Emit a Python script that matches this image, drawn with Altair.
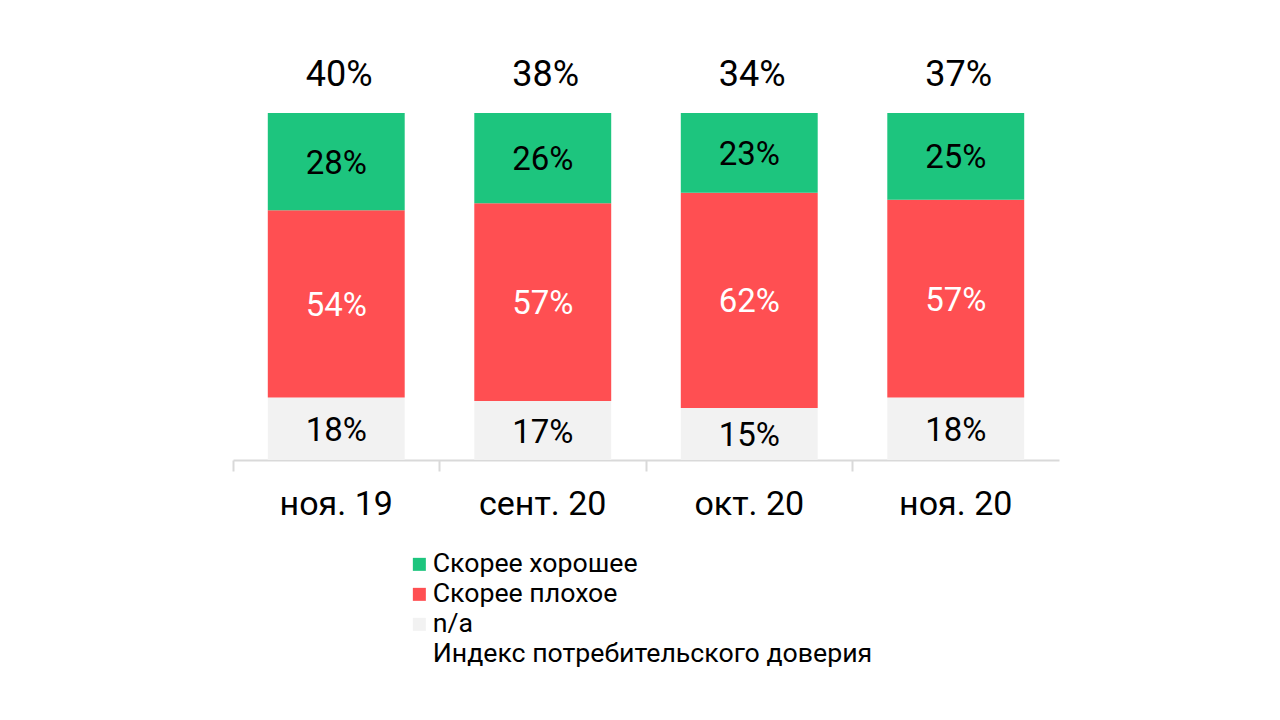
import altair as alt
import pandas as pd

months = ["ноя. 19", "сент. 20", "окт. 20", "ноя. 20"]
good = [28, 26, 23, 25]
bad = [54, 57, 62, 57]
na = [18, 17, 15, 18]
index_vals = [40, 38, 34, 37]

s_good = "Скорее хорошее"
s_bad = "Скорее плохое"
s_na = "n/a"
s_index = "Индекс потребительского доверия"
legend_domain = [s_good, s_bad, s_na, s_index]
legend_colors = ["#1DC57E", "#FF4F52", "#F2F2F2", "rgba(0,0,0,0)"]

rows = []
for i, m in enumerate(months):
    for s, vals, order in [(s_na, na, 0), (s_bad, bad, 1), (s_good, good, 2)]:
        rows.append({"month": m, "series": s, "value": vals[i], "order": order,
                     "label": f"{vals[i]}%"})
df = pd.DataFrame(rows)
idx_df = pd.DataFrame({"month": months, "index": index_vals,
                       "label": [f"{v}%" for v in index_vals]})

x_enc = alt.X(
    "month:N", sort=months,
    scale=alt.Scale(paddingInner=0.337, paddingOuter=0.1685),
    axis=alt.Axis(title=None, labelAngle=0, labelFontSize=34, labelFont="Roboto",
                  labelColor="#000000", domainColor="#D9D9D9", domainWidth=2,
                  tickColor="#D9D9D9", tickWidth=2, tickSize=11, bandPosition=-0.254,
                  labelPadding=33, labelBaseline="middle"),
)

base = alt.Chart(df)

bars = base.mark_bar().encode(
    x=x_enc,
    y=alt.Y("value:Q", stack="zero", scale=alt.Scale(domain=[0, 100]), axis=None),
    color=alt.Color("series:N",
                    scale=alt.Scale(domain=legend_domain, range=legend_colors),
                    legend=alt.Legend(title=None, orient="none", legendX=173, legendY=438,
                                      symbolType="square", symbolSize=169,
                                      symbolStrokeWidth=0, labelFontSize=26.7,
                                      labelFont="Roboto", labelColor="#000000",
                                      labelOffset=0, rowPadding=2, padding=0,
                                      labelLimit=700)),
    order=alt.Order("order:Q", sort="ascending"),
)

seg_text = base.transform_stack(
    stack="value", as_=["y0", "y1"], groupby=["month"],
    sort=[alt.SortField("order", order="ascending")],
).transform_calculate(mid="(datum.y0 + datum.y1) / 2").mark_text(
    fontSize=33, font="Roboto", baseline="middle", dy=2
).encode(
    x=alt.X("month:N", sort=months),
    y=alt.Y("mid:Q"),
    text="label:N",
    color=alt.condition(alt.datum.series == s_bad, alt.value("#FFFFFF"), alt.value("#000000")),
)

idx_text = alt.Chart(idx_df).mark_text(
    fontSize=36, font="Roboto", baseline="middle", dy=-38, dx=3, color="#000000"
).encode(
    x=alt.X("month:N", sort=months),
    y=alt.datum(100),
    text="label:N",
)

chart = alt.layer(bars, seg_text, idx_text).properties(
    width=826, height=347,
    padding={"left": 225, "top": 105, "right": 213, "bottom": 252},
    autosize=alt.AutoSizeParams(type="none"),
).configure(font="Roboto").configure_view(stroke=None)

chart.save("out.html", embed_options={"renderer": "svg", "actions": False})
